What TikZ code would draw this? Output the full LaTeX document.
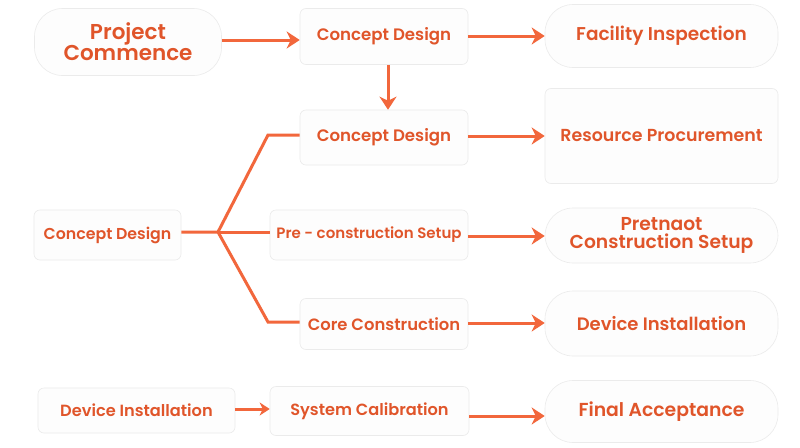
\documentclass[tikz,border=0pt]{standalone}
\usepackage{fontspec}
\setmainfont{Poppins}[UprightFont={* SemiBold},BoldFont={* SemiBold}]
\usetikzlibrary{arrows.meta}
\definecolor{txt}{HTML}{E0552A}
\definecolor{arr}{HTML}{F2673C}
\definecolor{bd}{HTML}{EBEBEB}
\definecolor{bg}{HTML}{FDFDFD}
\tikzset{
  box/.style={draw=bd, fill=bg, line width=0.6pt, rounded corners=6pt, text=txt, align=center, inner sep=0pt},
  pill/.style={draw=bd, fill=bg, line width=0.6pt, rounded corners=28pt, text=txt, align=center, inner sep=0pt},
  link/.style={draw=arr, line width=3pt},
  arrow/.style={link, -{Stealth[length=13pt,width=17pt,inset=4pt]}},
  smallarrow/.style={link, -{Stealth[length=10pt,width=13pt,inset=3pt]}},
}
\newcommand\fs[1]{\fontsize{#1}{#1}\selectfont}
\begin{document}
\begin{tikzpicture}[x=1pt,y=-1pt]
\useasboundingbox[fill=white] (0,0) rectangle (800,447);
% nodes
\node[pill, minimum width=187pt, minimum height=67pt, font=\fontsize{21.5}{21}\selectfont] (pc) at (128,42) {Project\\Commence};
\node[box, minimum width=168pt, minimum height=56pt, font=\fs{16.6}] (cd1) at (384,36.5) {Concept Design};
\node[pill, minimum width=233pt, minimum height=63pt, font=\fs{18.5}] (fi) at (661.5,36) {Facility Inspection};
\node[box, minimum width=168pt, minimum height=55pt, font=\fs{16.6}] (cd2) at (384,137.5) {Concept Design};
\node[box, minimum width=233pt, minimum height=95pt, font=\fs{17.4}] (rp) at (661.5,136) {Resource Procurement};
\node[box, minimum width=147pt, minimum height=50pt, font=\fs{15.8}] (cdl) at (107.5,235) {Concept Design};
\node[box, minimum width=198pt, minimum height=50pt, font=\fs{15}] (pcs) at (369,235) {Pre - construction Setup};
\node[pill, minimum width=233pt, minimum height=55pt, font=\fontsize{18.7}{17.5}\selectfont] (pcs2) at (661.5,235.5) {Pretnaot\\Construction Setup};
\node[box, minimum width=168pt, minimum height=51pt, font=\fs{16.4}] (cc) at (384,324) {Core Construction};
\node[pill, minimum width=233pt, minimum height=65pt, font=\fs{18}] (di) at (661.5,323.5) {Device Installation};
\node[box, minimum width=197pt, minimum height=45pt, font=\fs{16.2}] (dil) at (136.5,410.5) {Device Installation};
\node[box, minimum width=199pt, minimum height=49pt, font=\fs{16.2}] (sc) at (369.5,411) {System Calibration};
\node[pill, minimum width=233pt, minimum height=62pt, font=\fs{18.8}] (fa) at (661.5,411.5) {Final Acceptance};
% connectors
\draw[arrow] (pc.east |- 0,40) -- (cd1.west |- 0,40);
\draw[arrow] (cd1.east |- 0,36) -- (fi.west |- 0,36);
\draw[arrow] (cd1.south -| 388,0) -- (cd2.north -| 388,0);
\draw[arrow] (cd2.east |- 0,136) -- (rp.west |- 0,136);
\draw[arrow] (pcs.east |- 0,236) -- (pcs2.west |- 0,236);
\draw[arrow] (cc.east |- 0,323) -- (di.west |- 0,323);
\draw[smallarrow] (dil.east |- 0,409) -- (sc.west |- 0,409);
\draw[arrow] (sc.east |- 0,416) -- (fa.west |- 0,416);
\coordinate (br) at (218,232);
\draw[link, line join=miter] (cdl.east |- br) -- (br) -- (268,135) -- (cd2.west |- 0,135);
\draw[link] (br) -- (pcs.west |- br);
\draw[link, line join=miter] (br) -- (268,322) -- (cc.west |- 0,322);
\end{tikzpicture}
\end{document}
